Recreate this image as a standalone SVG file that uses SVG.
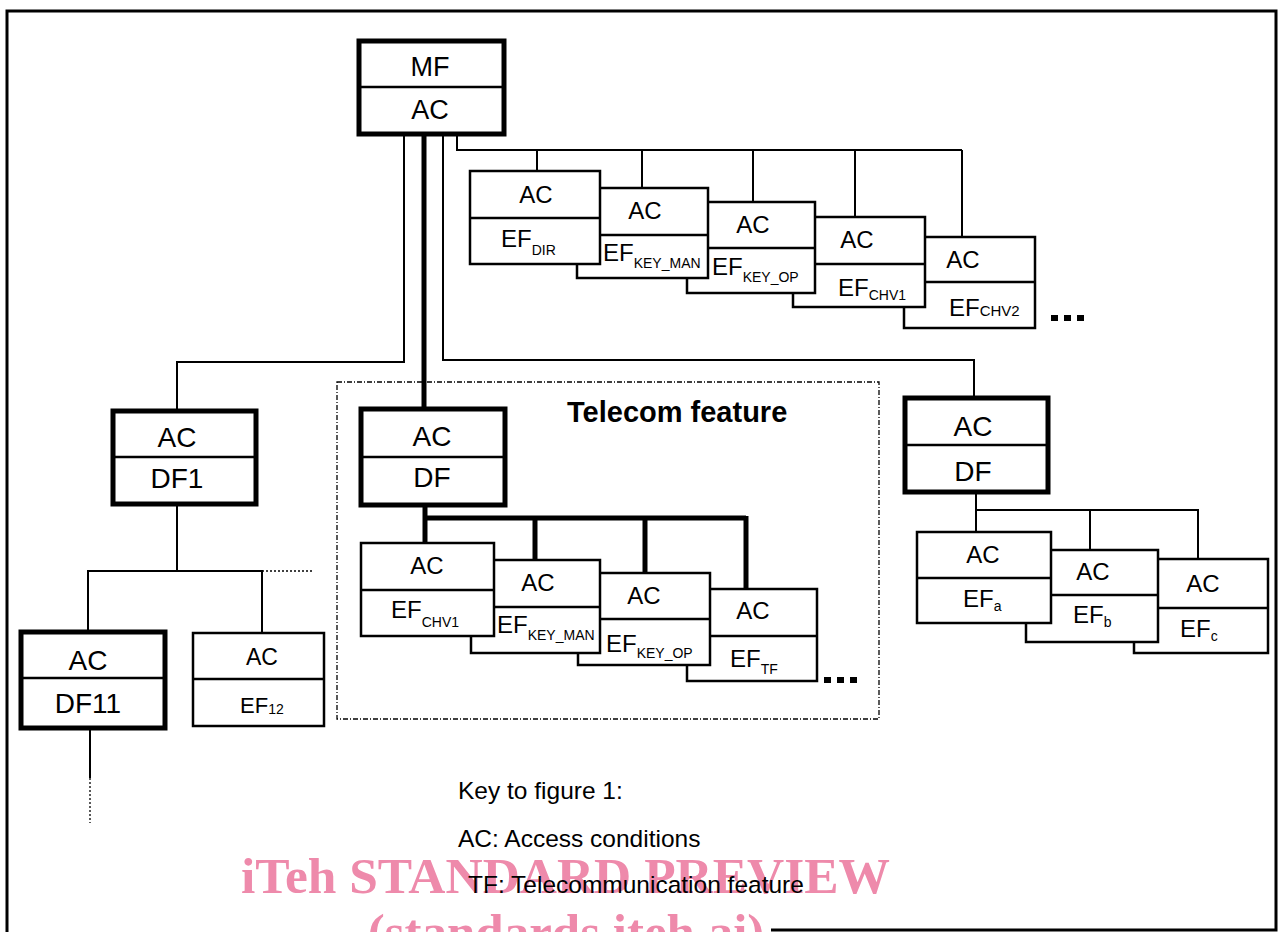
<svg xmlns="http://www.w3.org/2000/svg" width="1281" height="932" viewBox="0 0 1281 932">
<style>
.thin{stroke:#000;stroke-width:2;fill:none}
.thick{stroke:#000;stroke-width:5;fill:none}
.dot{stroke:#000;stroke-width:1.3;fill:none;stroke-dasharray:2 2}
.dashdot{stroke:#000;stroke-width:1.3;fill:none;stroke-dasharray:5 2 1 2}
.box{fill:#fff;stroke:#000;stroke-width:2.5}
.bbox{fill:#fff;stroke:#000;stroke-width:5}
.div{stroke:#000;stroke-width:2.5}
.t{font-family:"Liberation Sans",Arial,sans-serif;fill:#000}
.big{font-size:28px}
.mid{font-size:24px}
.sub{font-size:14px}
.wm{font-family:"Liberation Serif","Times New Roman",serif;font-weight:bold;font-size:51px;fill:#ee8aab}
</style>
<rect x="0" y="0" width="1281" height="932" fill="#fff"/>
<polyline points="7,932 7,11 1276,11 1276,930 771,930" fill="none" stroke="#000" stroke-width="3"/>

<g id="connectors">
  <polyline class="thin" points="457,134 457,150 962,150"/>
  <line class="thin" x1="537" y1="150" x2="537" y2="171"/>
  <line class="thin" x1="642" y1="150" x2="642" y2="188"/>
  <line class="thin" x1="753" y1="150" x2="753" y2="202"/>
  <line class="thin" x1="855" y1="150" x2="855" y2="217"/>
  <line class="thin" x1="962" y1="150" x2="962" y2="237"/>
  <polyline class="thin" points="404,134 404,362 177,362 177,411"/>
  <line class="thick" x1="424" y1="134" x2="424" y2="409"/>
  <polyline class="thin" points="443,134 443,360 974,360 974,398"/>
  <line class="thin" x1="177" y1="504" x2="177" y2="571"/>
  <polyline class="thin" points="88,632 88,571 262,571 262,633"/>
  <line class="dot" x1="262" y1="571" x2="313" y2="571"/>
  <line class="thin" x1="90" y1="728" x2="90" y2="778"/>
  <line class="dot" x1="90" y1="778" x2="90" y2="823"/>
  <line class="thick" x1="425" y1="505" x2="425" y2="543"/>
  <line class="thick" x1="425" y1="518" x2="746" y2="518"/>
  <line class="thick" x1="535" y1="518" x2="535" y2="560"/>
  <line class="thick" x1="645" y1="518" x2="645" y2="573"/>
  <line class="thick" x1="746" y1="516" x2="746" y2="589"/>
  <polyline class="thin" points="976,492 976,510 1198,510 1198,559"/>
  <line class="thin" x1="976" y1="510" x2="976" y2="532"/>
  <line class="thin" x1="1090" y1="510" x2="1090" y2="550"/>
</g>

<rect class="dashdot" x="337" y="382" width="542" height="337"/>
<text class="t" x="567" y="422" font-size="29" font-weight="bold">Telecom feature</text>

<g id="mf">
  <rect class="bbox" x="359" y="41" width="145" height="93"/>
  <line class="div" x1="359" y1="87" x2="504" y2="87"/>
  <text class="t" x="430" y="76" font-size="27" text-anchor="middle">MF</text>
  <text class="t" x="430" y="119" font-size="27" text-anchor="middle">AC</text>
</g>

<g id="ef-chv2">
  <rect class="box" x="904" y="237" width="131" height="91"/>
  <line class="div" x1="904" y1="282" x2="1035" y2="282"/>
  <text class="t mid" x="963" y="268" text-anchor="middle">AC</text>
  <text class="t mid" x="949" y="316">EF<tspan font-size="15">CHV2</tspan></text>
</g>
<g id="ef-chv1-top">
  <rect class="box" x="793" y="217" width="132" height="90"/>
  <line class="div" x1="793" y1="264" x2="925" y2="264"/>
  <text class="t mid" x="857" y="248" text-anchor="middle">AC</text>
  <text class="t mid" x="838" y="296">EF<tspan class="sub" dy="4">CHV1</tspan></text>
</g>
<g id="ef-key-op-top">
  <rect class="box" x="687" y="202" width="128" height="91"/>
  <line class="div" x1="687" y1="248" x2="815" y2="248"/>
  <text class="t mid" x="753" y="233" text-anchor="middle">AC</text>
  <text class="t mid" x="712" y="275">EF<tspan class="sub" dy="7">KEY_OP</tspan></text>
</g>
<g id="ef-key-man-top">
  <rect class="box" x="577" y="188" width="131" height="90"/>
  <line class="div" x1="577" y1="235" x2="708" y2="235"/>
  <text class="t mid" x="645" y="219" text-anchor="middle">AC</text>
  <text class="t mid" x="603" y="261">EF<tspan class="sub" dy="7">KEY_MAN</tspan></text>
</g>
<g id="ef-dir">
  <rect class="box" x="470" y="171" width="130" height="93"/>
  <line class="div" x1="470" y1="218" x2="600" y2="218"/>
  <text class="t mid" x="536" y="203" text-anchor="middle">AC</text>
  <text class="t mid" x="501" y="247">EF<tspan class="sub" dy="8">DIR</tspan></text>
</g>
<g id="more-top">
  <rect x="1051" y="315" width="7" height="6" fill="#000"/>
  <rect x="1064" y="315" width="7" height="6" fill="#000"/>
  <rect x="1077" y="315" width="7" height="6" fill="#000"/>
</g>

<g id="df1">
  <rect class="bbox" x="113" y="411" width="143" height="93"/>
  <line class="div" x1="113" y1="457" x2="256" y2="457"/>
  <text class="t big" x="177" y="447" text-anchor="middle">AC</text>
  <text class="t big" x="177" y="488" text-anchor="middle">DF1</text>
</g>
<g id="df11">
  <rect class="bbox" x="21" y="632" width="144" height="96"/>
  <line class="div" x1="21" y1="678" x2="165" y2="678"/>
  <text class="t big" x="88" y="670" text-anchor="middle">AC</text>
  <text class="t big" x="88" y="713" text-anchor="middle">DF11</text>
</g>
<g id="ef12">
  <rect class="box" x="193" y="633" width="131" height="93"/>
  <line class="div" x1="193" y1="679" x2="324" y2="679"/>
  <text class="t" x="262" y="665" font-size="23" text-anchor="middle">AC</text>
  <text class="t" x="240" y="713" font-size="22">EF<tspan class="sub" dy="1">12</tspan></text>
</g>

<g id="df-telecom">
  <rect class="bbox" x="361" y="409" width="144" height="96"/>
  <line class="div" x1="361" y1="457" x2="505" y2="457"/>
  <text class="t big" x="432" y="446" text-anchor="middle">AC</text>
  <text class="t big" x="432" y="487" text-anchor="middle">DF</text>
</g>
<g id="ef-tf">
  <rect class="box" x="687" y="589" width="130" height="92"/>
  <line class="div" x1="687" y1="636" x2="817" y2="636"/>
  <text class="t mid" x="753" y="619" text-anchor="middle">AC</text>
  <text class="t mid" x="730" y="667">EF<tspan class="sub" dy="7">TF</tspan></text>
</g>
<g id="ef-key-op">
  <rect class="box" x="578" y="573" width="132" height="92"/>
  <line class="div" x1="578" y1="619" x2="710" y2="619"/>
  <text class="t mid" x="644" y="604" text-anchor="middle">AC</text>
  <text class="t mid" x="606" y="652">EF<tspan class="sub" dy="6">KEY_OP</tspan></text>
</g>
<g id="ef-key-man">
  <rect class="box" x="471" y="560" width="129" height="93"/>
  <line class="div" x1="471" y1="607" x2="600" y2="607"/>
  <text class="t mid" x="538" y="591" text-anchor="middle">AC</text>
  <text class="t mid" x="497" y="633">EF<tspan class="sub" dy="7">KEY_MAN</tspan></text>
</g>
<g id="ef-chv1">
  <rect class="box" x="361" y="543" width="133" height="93"/>
  <line class="div" x1="361" y1="590" x2="494" y2="590"/>
  <text class="t mid" x="427" y="574" text-anchor="middle">AC</text>
  <text class="t mid" x="391" y="618">EF<tspan class="sub" dy="9">CHV1</tspan></text>
</g>
<g id="more-telecom">
  <rect x="824" y="677" width="7" height="6" fill="#000"/>
  <rect x="837" y="677" width="7" height="6" fill="#000"/>
  <rect x="850" y="677" width="7" height="6" fill="#000"/>
</g>

<g id="df-right">
  <rect class="bbox" x="905" y="398" width="143" height="94"/>
  <line class="div" x1="905" y1="445" x2="1048" y2="445"/>
  <text class="t big" x="973" y="436" text-anchor="middle">AC</text>
  <text class="t big" x="973" y="481" text-anchor="middle">DF</text>
</g>
<g id="ef-c">
  <rect class="box" x="1134" y="559" width="134" height="94"/>
  <line class="div" x1="1134" y1="608" x2="1268" y2="608"/>
  <text class="t mid" x="1203" y="592" text-anchor="middle">AC</text>
  <text class="t mid" x="1180" y="637">EF<tspan class="sub" dy="4">c</tspan></text>
</g>
<g id="ef-b">
  <rect class="box" x="1026" y="550" width="132" height="92"/>
  <line class="div" x1="1026" y1="595" x2="1158" y2="595"/>
  <text class="t mid" x="1093" y="580" text-anchor="middle">AC</text>
  <text class="t mid" x="1073" y="623">EF<tspan class="sub" dy="4">b</tspan></text>
</g>
<g id="ef-a">
  <rect class="box" x="917" y="532" width="134" height="91"/>
  <line class="div" x1="917" y1="578" x2="1051" y2="578"/>
  <text class="t mid" x="983" y="563" text-anchor="middle">AC</text>
  <text class="t mid" x="963" y="607">EF<tspan class="sub" dy="4">a</tspan></text>
</g>

<text class="wm" x="241" y="893" textLength="649" lengthAdjust="spacingAndGlyphs">iTeh STANDARD PREVIEW</text>
<text class="wm" x="566" y="949" text-anchor="middle">(standards.iteh.ai)</text>

<g id="key" class="t" font-size="24.5">
  <text x="458" y="799">Key to figure 1:</text>
  <text x="458" y="847">AC: Access conditions</text>
  <text x="468" y="893">TF: Telecommunication feature</text>
</g>
</svg>
